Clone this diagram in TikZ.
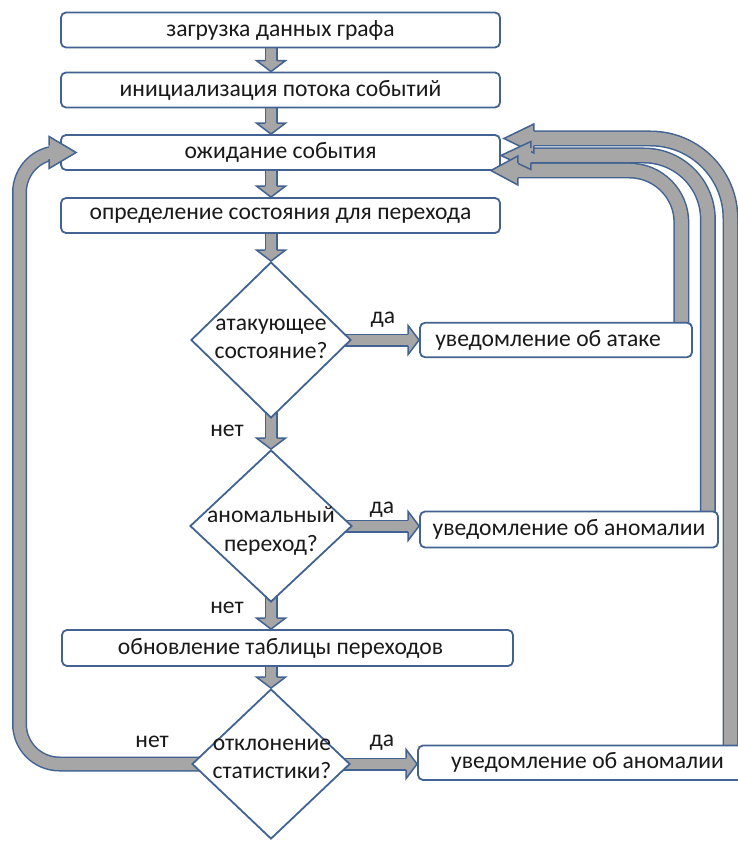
\documentclass[tikz,border=0pt]{standalone}
\usepackage{fontspec}
\setmainfont{Carlito}
\usetikzlibrary{calc,shapes.geometric,backgrounds}
\definecolor{bord}{RGB}{66,99,145}
\definecolor{agray}{RGB}{166,166,166}
\definecolor{txt}{RGB}{25,25,25}
\newcommand\fs{\fontsize{23.6}{28.5}\selectfont}
% head: #1 tip, #2 rotation, #3 length, #4 head half width, #5 shaft half width
\newcommand\ahead[5]{%
  \begin{scope}[shift={#1}, rotate=#2]
    \fill[agray] (-#3,#4) -- (0,0) -- (-#3,-#4) -- cycle;
    \draw[bord, line width=1.5pt, line join=miter] (-#3,#5) -- (-#3,#4) -- (0,0) -- (-#3,-#4) -- (-#3,-#5);
  \end{scope}}
% small straight arrow: #1 start, #2 shaft end (head base), #3 tip, #4 rotation
\newcommand\sarr[4]{%
  \draw[line width=13pt, bord] #1 -- #2;
  \draw[line width=10pt, agray] #1 -- #2;
  \ahead{#3}{#4}{11}{14.5}{5.75}}
\begin{document}
\begin{tikzpicture}[x=1pt,y=-1pt,
  bx/.style={draw=bord, line width=1.8pt, fill=white, rounded corners=5pt, inner sep=0pt, font=\fs, text=txt},
  dm/.style={draw=bord, line width=1.8pt, fill=white, diamond, inner sep=0pt},
  lbl/.style={font=\fs, text=txt, inner sep=0pt, align=center}]
\useasboundingbox (0,0) rectangle (737,845);

% boxes
\node[bx, minimum width=439pt, minimum height=35pt] (b1) at (280.5,30) {загрузка данных графа};
\node[bx, minimum width=439pt, minimum height=35pt] (b2) at (280.5,90) {инициализация потока событий};
\node[bx, minimum width=439pt, minimum height=35pt] (b3) at (280.5,152.5) {ожидание события};
\node[bx, minimum width=439pt, minimum height=35pt] (b4) at (280.5,215.5) {определение состояния для перехода};
\node[dm, minimum width=160pt, minimum height=156pt] (d1) at (271,340) {};
\node[lbl] (q1) at (271,339) {атакующее\\состояние?};
\node[bx, minimum width=272pt, minimum height=34.5pt] (natk) at (556,340) {уведомление об атаке\hspace*{16pt}};
\node[dm, minimum width=162pt, minimum height=152pt] (d2) at (271,526) {};
\node[lbl] (q2) at (271,531) {аномальный\\переход?};
\node[bx, minimum width=298pt, minimum height=36pt] (nan1) at (569,529.5) {уведомление об аномалии};
\node[bx, minimum width=451pt, minimum height=36pt] (b5) at (287.5,648) {обновление таблицы переходов\hspace*{14pt}};
\node[dm, minimum width=158pt, minimum height=150pt] (d3) at (271,764) {};
\node[lbl] (q3) at (272,759) {отклонение\\статистики?};
\node[bx, minimum width=339pt, minimum height=34.5pt] (nan2) at (587.5,762.75) {уведомление об аномалии};

% labels
\node[lbl] (y1) at ($(d1.east)+(31,-20)$) {да};
\node[lbl] (y2) at ($(d2.east)+(29,-16)$) {да};
\node[lbl] (y3) at ($(d3.east)+(31,-21)$) {да};
\node[lbl] (n1) at ($(d1.south)+(-44,12)$) {нет};
\node[lbl] (n2) at ($(d2.south)+(-44,5)$) {нет};
\node[lbl] (n3) at ($(d3.west)+(-39,-22)$) {нет};

% coordinates for connectors
\coordinate (a1s) at (b1.south -| d1.north);
\coordinate (a1t) at (b2.north -| d1.north);
\coordinate (a2s) at (b2.south -| d1.north);
\coordinate (a2t) at (b3.north -| d1.north);
\coordinate (a3s) at (b3.south -| d1.north);
\coordinate (a3t) at (b4.north -| d1.north);
\coordinate (a4s) at (b4.south -| d1.north);
\coordinate (a4t) at (d1.north);
\coordinate (a5t) at (d2.north);
\coordinate (a6t) at (b5.north -| d2.south);
\coordinate (a7s) at (b5.south -| d3.north);
\coordinate (a7t) at (d3.north);
\coordinate (h1t) at (d1.east -| natk.west);
\coordinate (h2t) at (d2.east -| nan1.west);
\coordinate (h3t) at (d3.east -| nan2.west);
% loop tips
\coordinate (lt) at ($(b3.west)+(16,0)$);
\coordinate (rt1) at ($(b3.east)+(3,-14)$);
\coordinate (rt2) at ($(b3.east)+(0,3)$);
\coordinate (rt3) at ($(b3.east)+(-10,18)$);
\coordinate (rs1) at ($(nan2.north)+(143,5)$);
\coordinate (rs2) at ($(nan1.north east)+(-11,5)$);
\coordinate (rs3) at ($(natk.north east)+(-11.5,5)$);

\begin{pgfonlayer}{background}
  \sarr{($(a1s)+(0,-3)$)}{($(a1t)+(0,-10)$)}{(a1t)}{-90}
  \sarr{($(a2s)+(0,-3)$)}{($(a2t)+(0,-10)$)}{(a2t)}{-90}
  \sarr{($(a3s)+(0,-3)$)}{($(a3t)+(0,-10)$)}{(a3t)}{-90}
  \sarr{($(a4s)+(0,-3)$)}{($(a4t)+(0,-10)$)}{(a4t)}{-90}
  \sarr{($(d1.south)+(0,-10)$)}{($(a5t)+(0,-10)$)}{(a5t)}{-90}
  \sarr{($(d2.south)+(0,-10)$)}{($(a6t)+(0,-10)$)}{(a6t)}{-90}
  \sarr{($(a7s)+(0,-3)$)}{($(a7t)+(0,-10)$)}{(a7t)}{-90}
  \sarr{(d1.center)}{($(h1t)+(-10,0)$)}{(h1t)}{0}
  \sarr{(d2.center)}{($(h2t)+(-10,0)$)}{(h2t)}{0}
  \sarr{(d3.center)}{($(h3t)+(-10,0)$)}{(h3t)}{0}
  % left loop
  \draw[line width=15pt, bord, rounded corners=40pt] (d3.center) -- (19.5,764) -- (19.5,152.5) -- ($(lt)+(-25,0)$);
  \draw[line width=12pt, agray, rounded corners=40pt] (d3.center) -- (19.5,764) -- (19.5,152.5) -- ($(lt)+(-25,0)$);
  % right loops
  \draw[line width=16pt, bord, rounded corners=80pt] (rs1) |- ($(rt1)+(28,0)$);
  \draw[line width=13pt, agray, rounded corners=80pt] (rs1) |- ($(rt1)+(28,0)$);
  \draw[line width=16pt, bord, rounded corners=64pt] (rs2) |- ($(rt2)+(28,0)$);
  \draw[line width=13pt, agray, rounded corners=64pt] (rs2) |- ($(rt2)+(28,0)$);
  \draw[line width=16pt, bord, rounded corners=52pt] (rs3) |- ($(rt3)+(25,0)$);
  \draw[line width=13pt, agray, rounded corners=52pt] (rs3) |- ($(rt3)+(25,0)$);
\end{pgfonlayer}

% loop heads on top
\ahead{(lt)}{0}{27}{16}{6.75}
\ahead{(rt1)}{180}{30}{14.5}{7.25}
\ahead{(rt2)}{180}{30}{14}{7.25}
\ahead{(rt3)}{180}{27}{14.5}{7.25}
\end{tikzpicture}
\end{document}
